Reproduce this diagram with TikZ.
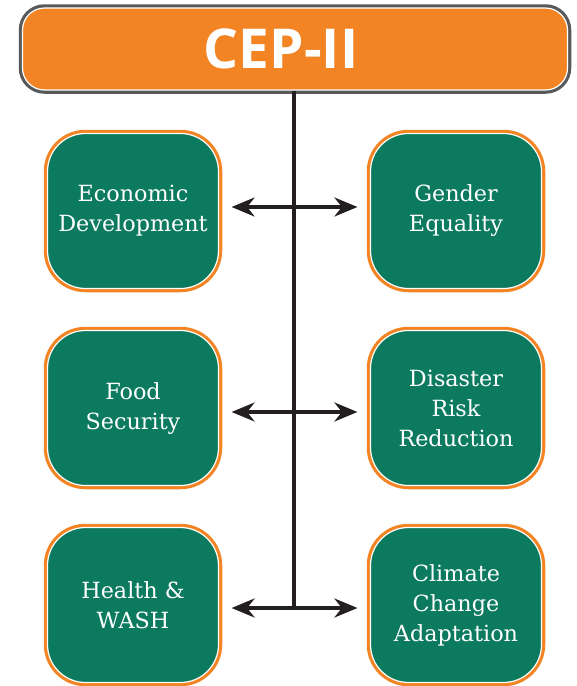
\documentclass[tikz,border=0pt]{standalone}
\usepackage{fontspec}
\setmainfont{DejaVu Serif}
\newfontfamily\headfont{Open Sans}
\usetikzlibrary{arrows.meta}
\definecolor{cepor}{HTML}{F28424}
\definecolor{cepgr}{HTML}{0C7A5E}
\definecolor{cepgy}{HTML}{58595B}
\definecolor{cepln}{HTML}{231F20}
\begin{document}
\begin{tikzpicture}[x=1pt,y=-1pt,
  goal/.style={shape=rectangle, rounded corners=38pt, minimum width=171pt, minimum height=155pt,
    fill=cepgr, draw=white, line width=1.2pt, preaction={draw=cepor, line width=7.5pt},
    text=white, align=center, font=\fontsize{22.3}{30}\selectfont, inner sep=0pt},
  headbox/.style={shape=rectangle, rounded corners=22pt, minimum width=545pt, minimum height=82pt,
    fill=cepor, draw=white, line width=1.2pt, preaction={draw=cepgy, line width=7.5pt},
    text=white, font=\headfont\bfseries\fontsize{55}{60}\selectfont, inner sep=0pt},
  trunk/.style={draw=cepln, line width=3.2pt},
  conn/.style={draw=cepln, line width=3.2pt, {Stealth[length=23pt,width=19pt]}-{Stealth[length=23pt,width=19pt]},
    shorten <=12.5pt, shorten >=12.5pt}
]
\useasboundingbox (0,0) rectangle (577,686);
\node[headbox] (head) at (295,49) {CEP-II\hspace*{28pt}};
\node[goal] (l1) at (133,211) {Economic\\Development};
\node[goal] (r1) at (456,211) {Gender\\Equality};
\node[goal] (l2) at (133,408) {Food\\Security};
\node[goal] (r2) at (456,408) {Disaster\\Risk\\Reduction};
\node[goal] (l3) at (133,605) {Health \&\\WASH};
\node[goal] (r3) at (456,605) {Climate\\Change\\Adaptation};
\coordinate (j1) at (294,207);
\coordinate (j2) at (294,412);
\coordinate (j3) at (294,608);
\draw[trunk] (head.south -| j3) -- (j3);
\draw[conn] (l1.east |- j1) -- (r1.west |- j1);
\draw[conn] (l2.east |- j2) -- (r2.west |- j2);
\draw[conn] (l3.east |- j3) -- (r3.west |- j3);
\end{tikzpicture}
\end{document}
